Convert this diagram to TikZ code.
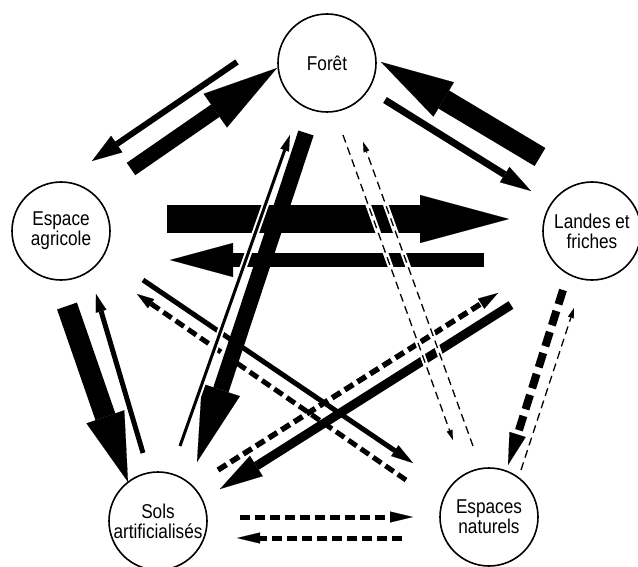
\documentclass[tikz,border=0pt]{standalone}
\usepackage{fontspec}
\setmainfont{Liberation Sans}[FakeStretch=0.86]
\usetikzlibrary{arrows.meta}
% #1 extra options (dash), #2 shaft width, #3 head length, #4 head width, #5 from, #6 to
\newcommand{\fatarrow}[6][]{%
  \draw[black, line width=#2, -{Triangle[length=#3,width=#4,line width=0.1pt]}, #1] (#5) -- (#6);
}
\newcommand{\haloarrow}[6][]{%
  \draw[white, line width=#2+4pt, shorten >=#3] (#5) -- (#6);
  \draw[black, line width=#2, -{Triangle[length=#3,width=#4,line width=0.1pt]}, #1] (#5) -- (#6);
}
\tikzset{
  place/.style={circle, draw, line width=1.6pt, minimum size=98pt, inner sep=0pt,
    align=center, font=\fontsize{20}{20}\selectfont},
  thindash/.style={dash pattern=on 8pt off 5pt},
  middash/.style={dash pattern=on 10pt off 5pt},
  bigdash/.style={dash pattern=on 15pt off 7pt}
}
\begin{document}
\begin{tikzpicture}[x=1pt,y=-1pt]
\useasboundingbox (0,0) rectangle (638,567);
\node[place] (foret) at (327,63) {Forêt};
\node[place] (agri) at (61,231) {Espace\\agricole};
\node[place] (landes) at (592,231) {Landes et\\friches};
\node[place] (sols) at (158,521) {Sols\\artificialisés};
\node[place] (nat) at (489,517) {Espaces\\naturels};

\coordinate (a1s) at (237,62);  \coordinate (a1e) at (92,161);
\coordinate (a2s) at (131,169); \coordinate (a2e) at (277,68);
\coordinate (a3s) at (385,100); \coordinate (a3e) at (531,191);
\coordinate (a4s) at (540,157); \coordinate (a4e) at (381,62);
\coordinate (a5s) at (167,219); \coordinate (a5e) at (509,219);
\coordinate (a6s) at (484,260); \coordinate (a6e) at (170,260);
\coordinate (a7s) at (306,133); \coordinate (a7e) at (197,462);
\coordinate (a8s) at (180,446); \coordinate (a8e) at (290,135);
\coordinate (a9s) at (343,135); \coordinate (a9e) at (453,440);
\coordinate (a10s) at (473,446); \coordinate (a10e) at (363,142);
\coordinate (a11s) at (563,290); \coordinate (a11e) at (508,465);
\coordinate (a12s) at (521,470); \coordinate (a12e) at (574,308);
\coordinate (a13s) at (67,306);  \coordinate (a13e) at (128,482);
\coordinate (a14s) at (143,453); \coordinate (a14e) at (96,294);
\coordinate (a15s) at (143,280); \coordinate (a15e) at (413,463);
\coordinate (a16s) at (406,480); \coordinate (a16e) at (137,294);
\coordinate (a17s) at (218,470); \coordinate (a17e) at (498,293);
\coordinate (a18s) at (511,305); \coordinate (a18e) at (220,489);
\coordinate (a19s) at (240,517); \coordinate (a19e) at (413,517);
\coordinate (a20s) at (402,538); \coordinate (a20e) at (237,538);

\fatarrow{28pt}{89pt}{48pt}{a5s}{a5e}
\fatarrow{14pt}{63pt}{34pt}{a6s}{a6e}
\fatarrow{21pt}{69pt}{40pt}{a13s}{a13e}
\fatarrow{15pt}{75pt}{41pt}{a2s}{a2e}
\fatarrow{21pt}{73pt}{40pt}{a4s}{a4e}
\fatarrow{9pt}{43pt}{24pt}{a18s}{a18e}
\fatarrow{16pt}{76pt}{40pt}{a7s}{a7e}
\fatarrow{6pt}{30pt}{20pt}{a1s}{a1e}
\fatarrow{7pt}{31pt}{18pt}{a3s}{a3e}
\fatarrow{5pt}{18pt}{11pt}{a14s}{a14e}
\fatarrow{5pt}{22pt}{13pt}{a15s}{a15e}
\fatarrow[middash]{5pt}{17pt}{11pt}{a16s}{a16e}
\fatarrow[middash]{5.5pt}{20pt}{12pt}{a17s}{a17e}
\fatarrow[bigdash]{8pt}{32pt}{17pt}{a11s}{a11e}
\fatarrow[thindash]{1.3pt}{10pt}{6pt}{a12s}{a12e}
\haloarrow{3pt}{16pt}{9pt}{a8s}{a8e}
\haloarrow[thindash]{1.3pt}{10pt}{6pt}{a9s}{a9e}
\haloarrow[thindash]{1.3pt}{10pt}{6pt}{a10s}{a10e}
\fatarrow[middash]{5pt}{23pt}{11pt}{a19s}{a19e}
\fatarrow[middash]{5pt}{23pt}{11pt}{a20s}{a20e}
\end{tikzpicture}
\end{document}
